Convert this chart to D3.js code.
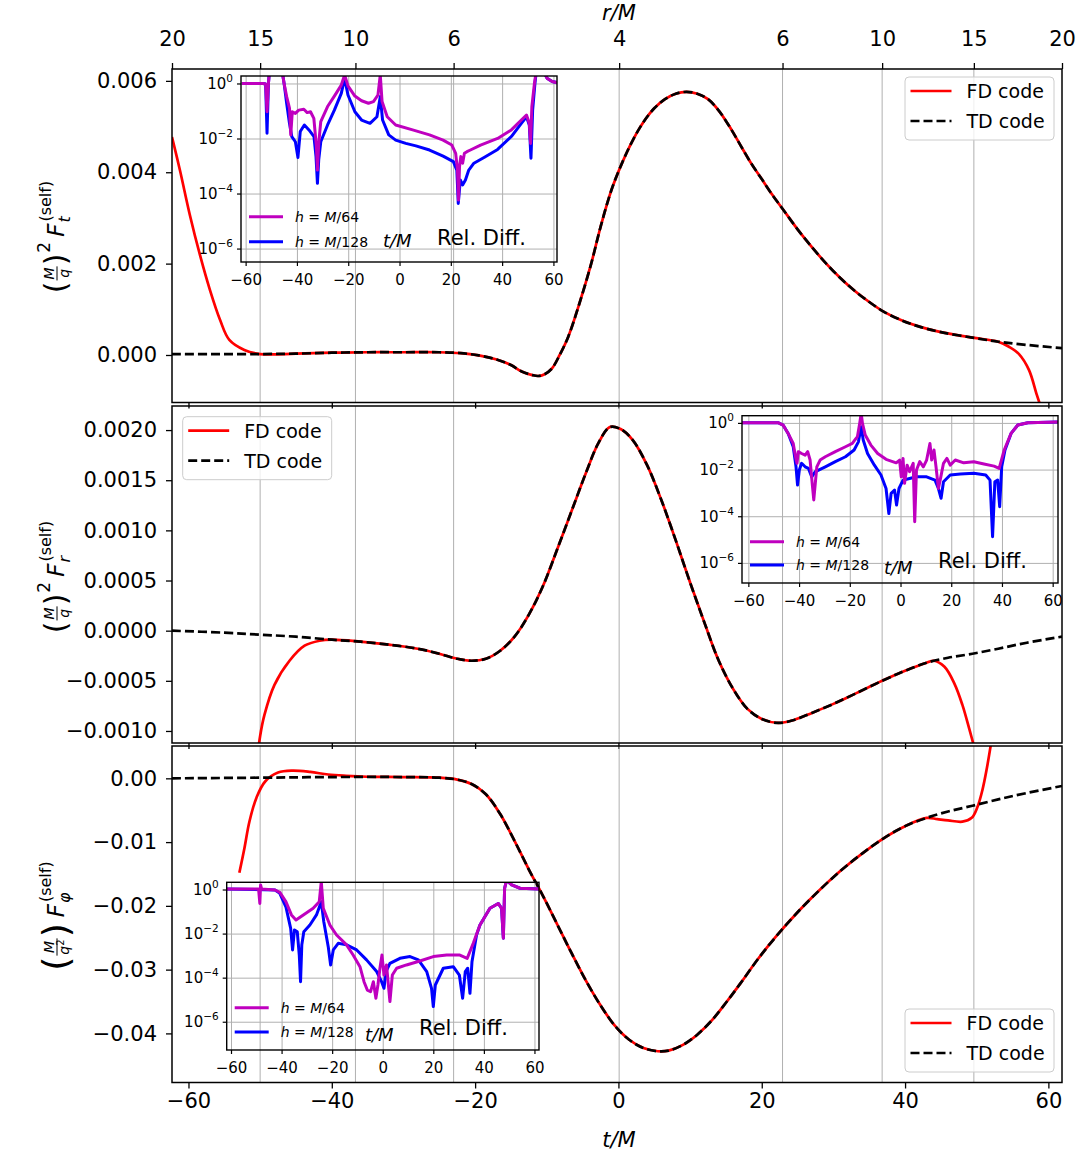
<!DOCTYPE html>
<html>
<head>
<meta charset="utf-8">
<script src="https://cdn.jsdelivr.net/npm/d3@7"></script>
<style>
  body { margin: 0; background: #fff; }
  svg { display: block; font-family: "DejaVu Sans", sans-serif; }
</style>
</head>
<body>
<svg id="chart" width="1082" height="1154"></svg>
<script>
// ---------------- shared time axis ----------------
const tDomain = [-62.3, 61.9];
const tTicks = [-60, -40, -20, 0, 20, 40, 60];
// orbital radius r/M reached at these times (top axis + vertical grid)
const rTickTimes = [-62.3, -50.0, -36.7, -23.0, 0.1, 22.9, 36.8, 49.6, 61.9];
const rTickLabels = ["20", "15", "10", "6", "4", "6", "10", "15", "20"];
const seriesNames = ["FD code", "TD code"];

// ---------------- F_t ----------------
const ftDomain = [-0.00104, 0.00626];
const ftTicks = [0, 0.002, 0.004, 0.006];
const ftTD = [[-62.3,0.00002],[-56,0.00002],[-50,0.00002],[-45,0.00003],[-40,0.00005],[-35,0.00006],[-30,0.00006],[-25,0.00006],[-22,0.00004],[-19.5,-0.00001],[-17,-0.0001],[-15,-0.00022],[-13.5,-0.00036],[-12,-0.00044],[-11.2,-0.00046],[-10.3,-0.00042],[-9.3,-0.0003],[-8.2,0.0],[-7,0.0004],[-5.5,0.0011],[-3.8,0.002],[-2.5,0.0028],[-1,0.0036],[0.5,0.0042],[2,0.0047],[3.5,0.0051],[5,0.0054],[6.5,0.0056],[8,0.00572],[9.5,0.00576],[11,0.00572],[12.5,0.0056],[14,0.00535],[15.5,0.005],[17,0.0046],[18.5,0.0042],[20,0.00385],[21.5,0.0035],[23,0.00318],[25,0.00275],[27,0.00236],[29,0.002],[31,0.00168],[33,0.0014],[35,0.00116],[37,0.00095],[39.5,0.00076],[42,0.00062],[45,0.0005],[49.4,0.00038],[53,0.00029],[57,0.00022],[61.9,0.00015]];
const ftFDLeft = [[-62.3,0.00477],[-61.2,0.00405],[-59.8,0.00306],[-58.4,0.00219],[-57.0,0.00142],[-55.6,0.00077],[-54.3,0.00033],[-52.2,0.00011]];
const ftFDRight = [[54.5,0.00018],[55.9,0.00002],[57.3,-0.00033],[58.4,-0.00088],[59.3,-0.0013]];
const ftFDJoin = [-50, 53];

// ---------------- F_r ----------------
const frDomain = [-0.00112, 0.00224];
const frTicks = [-0.001, -0.0005, 0, 0.0005, 0.001, 0.0015, 0.002];
const frTD = [[-62.3,0.0],[-55,-0.00002],[-50,-0.00004],[-45,-0.00006],[-40,-0.00009],[-36,-0.00011],[-32,-0.00014],[-28,-0.00018],[-25,-0.00023],[-22.5,-0.00028],[-20.5,-0.0003],[-18.5,-0.00028],[-16.5,-0.0002],[-14.5,-0.00006],[-12.5,0.00016],[-10.5,0.00045],[-8.5,0.00082],[-6.5,0.0012],[-4.5,0.00158],[-2.8,0.00187],[-1.2,0.00203],[0.3,0.00201],[2,0.0019],[4,0.00165],[6,0.0013],[8,0.0009],[10,0.00048],[12,0.00008],[14,-0.0003],[16,-0.00058],[18,-0.00078],[20,-0.00088],[22.3,-0.00092],[24.5,-0.00089],[27,-0.00082],[30,-0.00073],[33,-0.00063],[36.8,-0.0005],[40,-0.0004],[43,-0.00032],[46,-0.00027],[49.4,-0.00023],[53,-0.00018],[57,-0.00012],[61.9,-0.00006]];
const frFDLeft = [[-50.6,-0.0014],[-50.0,-0.00105],[-49.4,-0.00084],[-48.0,-0.00054],[-45.9,-0.0003],[-43.8,-0.00015],[-41.7,-0.0001]];
const frFDRight = [[44,-0.0003],[45.5,-0.00036],[46.9,-0.00053],[48,-0.00074],[49,-0.00099],[49.8,-0.0012]];
const frFDJoin = [-40, 43];

// ---------------- F_phi ----------------
const fpDomain = [-0.0477, 0.00507];
const fpTicks = [-0.04, -0.03, -0.02, -0.01, 0];
const fpTD = [[-62.3,0],[-50,0.0001],[-40,0.0002],[-30,0.0002],[-25,0.0001],[-22.5,-0.0002],[-20.5,-0.0009],[-18.5,-0.0025],[-16.5,-0.0056],[-14.5,-0.0098],[-12.5,-0.0143],[-10.5,-0.0185],[-8.5,-0.023],[-6.5,-0.0275],[-4.5,-0.0318],[-2.5,-0.0356],[-0.5,-0.0388],[1.5,-0.041],[3.5,-0.0423],[5.5,-0.0428],[7,-0.0427],[9,-0.0418],[11,-0.0402],[13,-0.038],[15,-0.0352],[17,-0.0322],[19.5,-0.0283],[22,-0.0248],[25,-0.021],[28,-0.0176],[31,-0.0145],[34,-0.0118],[37,-0.0094],[40,-0.0075],[43,-0.0062],[46,-0.0052],[49.4,-0.0043],[53,-0.0033],[57,-0.0023],[61.9,-0.0012]];
const fpFDLeft = [[-52.9,-0.0148],[-52.2,-0.011],[-51.5,-0.0068],[-50.5,-0.003],[-49.3,-0.0005],[-47.5,0.0009],[-45.5,0.0012],[-43,0.001],[-40.5,0.0006],[-38,0.0004],[-35,0.00025]];
const fpFDRight = [[44.5,-0.0064],[46,-0.0066],[48,-0.0068],[49.3,-0.0062],[50.1,-0.0045],[50.8,-0.0018],[51.4,0.0015],[52,0.0055]];
const fpFDJoin = [-30, 43];

// ---------------- relative differences, [t/M, log10] ----------------
const insetTTicks = [-60, -40, -20, 0, 20, 40, 60];
const insetLogTicks = [0, -2, -4, -6];
const resolutions = ["64", "128"];

const relFt64 = [[-61.7,0.02],[-53.4,0.02],[-52.4,0.0],[-51.85,-1.01],[-51.3,0.02],[-50.8,0.6],[-46.2,0.6],[-45.2,0.02],[-44.2,-0.46],[-43.1,-0.88],[-42.6,-1.85],[-42.0,-1.01],[-40.8,-1.07],[-39.5,-0.95],[-37.5,-0.92],[-36.2,-1.04],[-34.9,-1.01],[-33.6,-1.25],[-32.6,-2.28],[-32.2,-3.13],[-31.7,-2.16],[-30.9,-1.37],[-28.25,-0.82],[-25.6,-0.44],[-22.9,-0.04],[-21.6,0.33],[-20.3,-0.07],[-17.6,-0.44],[-15.0,-0.61],[-12.3,-0.7],[-10.35,-0.64],[-8.6,-0.4],[-7.7,0.33],[-7.0,-0.64],[-5.0,-1.19],[-1.7,-1.49],[4.9,-1.67],[11.5,-1.85],[16.8,-2.04],[20.2,-2.22],[21.7,-2.52],[22.4,-3.13],[22.8,-4.22],[23.2,-3.0],[23.7,-2.64],[24.4,-2.88],[25.1,-2.52],[26.1,-2.46],[27.45,-2.4],[31.4,-2.22],[38.05,-1.98],[43.4,-1.67],[47.3,-1.31],[49.3,-1.13],[50.4,-1.43],[50.9,-2.16],[51.4,-0.82],[52.4,0.02],[53.3,0.6],[55.3,0.6],[57.3,0.21],[59.3,0.09],[62.6,0.02]];
const relFt128 = [[-61.7,0.02],[-53.4,0.02],[-52.4,0.0],[-51.85,-1.79],[-51.3,0.02],[-50.8,0.6],[-46.2,0.6],[-45.2,0.02],[-44.2,-0.7],[-43.1,-1.43],[-42.2,-1.91],[-40.8,-2.1],[-39.8,-2.67],[-38.9,-1.73],[-37.3,-1.49],[-35.5,-1.67],[-33.55,-1.91],[-32.75,-2.64],[-32.2,-3.61],[-31.7,-2.76],[-30.9,-2.1],[-28.25,-1.49],[-25.6,-0.95],[-22.9,-0.34],[-21.6,0.21],[-20.3,-0.4],[-17.6,-1.01],[-15.0,-1.31],[-11.7,-1.43],[-9.0,-1.19],[-7.7,-0.46],[-6.8,-1.31],[-4.4,-1.85],[-1.7,-2.04],[2.25,-2.16],[6.2,-2.25],[11.5,-2.4],[16.8,-2.62],[20.8,-2.82],[22.15,-3.13],[22.7,-4.34],[23.5,-3.49],[24.4,-3.67],[25.5,-3.49],[26.8,-3.13],[28.8,-2.88],[32.75,-2.67],[38.05,-2.38],[43.4,-1.91],[47.3,-1.43],[49.3,-1.19],[50.4,-1.49],[51.05,-2.7],[51.7,-0.95],[52.6,0.02],[53.3,0.6],[55.3,0.6],[57.3,0.21],[59.3,0.09],[62.6,0.02]];

const relFr64 = [[-62.7,0.03],[-48.5,0.03],[-46.5,-0.07],[-44.5,-0.43],[-42.5,-0.86],[-41.6,-1.43],[-41.0,-1.71],[-40.5,-1.21],[-39.2,-1.29],[-37.8,-1.36],[-36.8,-1.21],[-35.85,-1.57],[-34.9,-2.71],[-34.4,-3.28],[-33.8,-2.57],[-33.2,-1.86],[-31.9,-1.57],[-29.85,-1.43],[-25.9,-1.21],[-21.9,-1.0],[-19.2,-0.86],[-17.2,-0.57],[-16.3,0.0],[-15.7,0.43],[-15.2,0.0],[-14.1,-0.5],[-11.9,-0.93],[-9.2,-1.29],[-5.9,-1.54],[-1.9,-1.69],[-0.56,-1.57],[0.1,-2.29],[0.8,-1.5],[1.4,-2.57],[2.4,-1.79],[3.4,-2.07],[4.8,-1.71],[5.4,-4.21],[6.1,-2.0],[7.4,-1.64],[8.8,-1.86],[10.1,-1.57],[11.4,-0.86],[12.1,-1.57],[13.0,-1.14],[13.8,-1.86],[14.75,-2.79],[15.7,-2.29],[16.75,-1.71],[18.1,-1.5],[19.4,-1.79],[21.4,-1.57],[24.75,-1.69],[28.7,-1.64],[32.7,-1.74],[36.7,-1.83],[38.7,-1.93],[40.7,-1.14],[43.4,-0.43],[46.05,-0.07],[50.0,0.03],[61.8,0.06]];
const relFr128 = [[-62.7,0.03],[-48.5,0.03],[-46.5,-0.07],[-44.5,-0.43],[-42.5,-1.0],[-41.4,-1.86],[-40.8,-2.64],[-40.1,-2.0],[-39.2,-1.71],[-37.8,-1.86],[-36.5,-1.93],[-35.2,-2.29],[-33.8,-2.07],[-32.5,-2.0],[-29.85,-1.86],[-25.9,-1.64],[-21.9,-1.43],[-18.5,-1.14],[-16.8,-0.79],[-15.7,-0.14],[-14.9,-0.71],[-13.2,-1.29],[-10.5,-1.79],[-7.9,-2.21],[-5.9,-2.79],[-4.8,-3.86],[-3.9,-3.0],[-2.55,-2.86],[-1.75,-3.5],[-0.8,-2.79],[0.8,-2.43],[3.4,-2.36],[6.1,-2.29],[10.1,-2.29],[13.4,-2.43],[14.75,-2.79],[15.8,-3.21],[16.75,-2.5],[19.4,-2.21],[23.4,-2.17],[28.7,-2.14],[33.4,-2.21],[35.1,-2.43],[36.1,-4.86],[37.0,-2.5],[38.1,-2.43],[38.9,-3.57],[39.7,-1.86],[41.0,-1.14],[43.4,-0.43],[46.05,-0.07],[50.0,0.03],[61.8,0.06]];

const relFp64 = [[-61.96,0.05],[-49.3,0.05],[-48.8,-0.61],[-48.5,0.23],[-48.1,0.05],[-42.8,0.0],[-40.9,-0.11],[-38.5,-0.53],[-36.3,-1.13],[-34.5,-1.36],[-31.6,-1.13],[-27.7,-0.83],[-25.3,-0.53],[-24.5,0.38],[-23.7,-0.83],[-21.1,-1.59],[-18.45,-2.04],[-14.5,-2.49],[-11.9,-2.95],[-9.2,-3.48],[-7.6,-4.16],[-6.3,-4.54],[-5.0,-4.61],[-3.9,-4.16],[-2.9,-4.91],[-2.1,-4.31],[-1.3,-3.55],[-0.5,-2.95],[0.3,-3.86],[1.3,-3.4],[2.65,-5.06],[3.6,-3.86],[5.3,-3.55],[9.2,-3.4],[14.5,-3.22],[19.8,-3.02],[25.1,-2.95],[30.3,-2.95],[33.2,-3.1],[35.6,-2.42],[38.25,-1.59],[42.2,-0.83],[45.5,-0.61],[46.8,-0.83],[47.5,-2.19],[48.0,0.08],[48.8,0.45],[50.8,0.23],[54.1,0.08],[61.6,0.05]];
const relFp128 = [[-61.96,0.05],[-42.8,0.0],[-40.9,-0.15],[-38.5,-0.76],[-36.6,-1.74],[-35.85,-2.72],[-35.1,-1.81],[-34.0,-1.89],[-33.2,-2.95],[-32.7,-4.16],[-32.2,-2.49],[-31.4,-1.89],[-29.0,-1.59],[-26.4,-1.13],[-24.5,-0.53],[-23.5,-1.44],[-21.75,-2.57],[-20.8,-3.4],[-19.75,-2.72],[-17.8,-2.42],[-14.5,-2.49],[-10.5,-2.72],[-6.6,-3.17],[-2.6,-3.7],[-0.65,-4.16],[0.3,-4.46],[1.1,-3.7],[2.65,-3.33],[6.6,-3.1],[10.6,-3.02],[13.9,-3.17],[17.2,-3.7],[19.1,-4.46],[19.8,-5.29],[20.6,-4.31],[23.75,-3.55],[27.7,-3.48],[30.1,-3.86],[31.4,-4.91],[32.45,-3.7],[33.4,-3.55],[34.3,-4.69],[35.1,-3.25],[36.9,-2.04],[38.25,-1.59],[42.2,-0.83],[45.5,-0.61],[46.8,-0.83],[47.5,-2.19],[48.0,0.08],[48.8,0.45],[50.8,0.23],[54.1,0.08],[61.6,0.05]];

// ---------------- drawing ----------------
const svg = d3.select("#chart");
const FONT = "'DejaVu Sans', sans-serif";
const X0 = 172, X1 = 1062;
const x = d3.scaleLinear().domain(tDomain).range([X0, X1]);
const RED = "#ff0000", MAGENTA = "#bf00bf", BLUE = "#0000ff", GRID = "#b0b0b0";

const panels = [
  { top: 69,  bottom: 402.5, domain: ftDomain, ticks: ftTicks, fmt: ".3f", td: ftTD, fdL: ftFDLeft, fdR: ftFDRight, join: ftFDJoin },
  { top: 406, bottom: 743,   domain: frDomain, ticks: frTicks, fmt: ".4f", td: frTD, fdL: frFDLeft, fdR: frFDRight, join: frFDJoin },
  { top: 746, bottom: 1082.5, domain: fpDomain, ticks: fpTicks, fmt: ".2f", td: fpTD, fdL: fpFDLeft, fdR: fpFDRight, join: fpFDJoin }
];

const defs = svg.append("defs");

function styleAxis(g, size) {
  g.select(".domain").remove();
  g.selectAll(".tick line").attr("stroke", "#000").attr("stroke-width", 1.3);
  g.selectAll(".tick text").attr("fill", "#000").style("font-size", size + "px").style("font-family", FONT);
}

panels.forEach((p, i) => {
  const y = d3.scaleLinear().domain(p.domain).range([p.bottom, p.top]);
  defs.append("clipPath").attr("id", "panel" + i)
    .append("rect").attr("x", X0).attr("y", p.top).attr("width", X1 - X0).attr("height", p.bottom - p.top);

  // vertical grid from the r/M ticks
  svg.append("g").selectAll("line").data(rTickTimes.slice(1, -1)).join("line")
    .attr("x1", d => x(d)).attr("x2", d => x(d))
    .attr("y1", p.top).attr("y2", p.bottom)
    .attr("stroke", GRID).attr("stroke-width", 1);

  const line = d3.line().x(d => x(d[0])).y(d => y(d[1])).curve(d3.curveCatmullRom.alpha(0.5));
  const fd = p.fdL.concat(p.td.filter(d => d[0] >= p.join[0] && d[0] <= p.join[1]), p.fdR);
  const cg = svg.append("g").attr("clip-path", `url(#panel${i})`);
  cg.append("path").attr("d", line(fd)).attr("fill", "none").attr("stroke", RED).attr("stroke-width", 2.7);
  cg.append("path").attr("d", line(p.td)).attr("fill", "none").attr("stroke", "#000")
    .attr("stroke-width", 2.7).attr("stroke-dasharray", "9,4");

  const ay = svg.append("g").attr("transform", `translate(${X0},0)`)
    .call(d3.axisLeft(y).tickValues(p.ticks).tickFormat(d3.format(p.fmt)).tickSize(6).tickPadding(9));
  styleAxis(ay, 21);

  const ax = svg.append("g").attr("transform", `translate(0,${p.bottom})`)
    .call(d3.axisBottom(x).tickValues(tTicks).tickSize(6).tickPadding(4.5)
      .tickFormat(i === 2 ? d3.format("d") : () => ""));
  styleAxis(ax, 21);

  svg.append("rect").attr("x", X0).attr("y", p.top).attr("width", X1 - X0).attr("height", p.bottom - p.top)
    .attr("fill", "none").attr("stroke", "#000").attr("stroke-width", 1.5);
});

// top r/M axis
const rAxis = svg.append("g").attr("transform", `translate(0,${panels[0].top})`)
  .call(d3.axisTop(x).tickValues(rTickTimes).tickSize(6).tickPadding(17).tickFormat((d, i) => rTickLabels[i]));
styleAxis(rAxis, 21);

svg.append("text").attr("x", 619).attr("y", 20).attr("text-anchor", "middle")
  .style("font-size", "21px").style("font-style", "italic").text("r/M");
svg.append("text").attr("x", 619).attr("y", 1147).attr("text-anchor", "middle")
  .style("font-size", "21px").style("font-style", "italic").text("t/M");

// rotated mathematical y labels
function yLabel(xBase, cy, den, pow, sub, parenSize) {
  const g = svg.append("g").attr("transform", `translate(${xBase},${cy}) rotate(-90)`);
  const inner = g.append("g");
  const axisY = -7;
  const txt = (s, size, italic, xx, yy) => inner.append("text").attr("x", xx).attr("y", yy)
    .style("font-size", size + "px").style("font-style", italic ? "italic" : "normal").text(s);
  let cx = 0;
  const pBase = axisY + 0.315 * parenSize;
  const lp = txt("(", parenSize, false, cx, pBase);
  cx += lp.node().getComputedTextLength();
  // fraction M / den
  const fs = 14;
  const num = txt("M", fs, true, 0, axisY - 3);
  const dn = inner.append("text").attr("y", axisY + 12).style("font-size", fs + "px");
  dn.append("tspan").style("font-style", "italic").text(den[0]);
  if (den.length > 1) dn.append("tspan").attr("dy", -5).style("font-size", "10px").text(den[1]);
  const w = Math.max(num.node().getComputedTextLength(), dn.node().getComputedTextLength()) + 4;
  num.attr("x", cx + w / 2).attr("text-anchor", "middle");
  dn.attr("x", cx + w / 2).attr("text-anchor", "middle");
  inner.append("line").attr("x1", cx + 1).attr("x2", cx + w - 1).attr("y1", axisY).attr("y2", axisY)
    .attr("stroke", "#000").attr("stroke-width", 1);
  cx += w;
  const rp = txt(")", parenSize, false, cx, pBase);
  cx += rp.node().getComputedTextLength();
  if (pow) {
    const pw = txt(pow, 17, false, cx + 1, -14);
    cx += pw.node().getComputedTextLength() + 6;
  } else {
    cx += 6;
  }
  const F = txt("F", 23, true, cx, 0);
  cx += F.node().getComputedTextLength() + 1;
  txt(sub, 16, true, cx, 6);
  txt("(self)", 16, false, cx + 1, -13);
  const bb = inner.node().getBBox();
  inner.attr("transform", `translate(${-(bb.x + bb.width / 2)},0)`);
}
yLabel(64, 237, ["q"], "2", "t", 30);
yLabel(64, 577, ["q"], "2", "r", 30);
yLabel(64, 916, ["q", "2"], null, "\u03C6", 36);

// insets with relative differences
function drawInset(cfg) {
  const b = cfg.box;
  const xi = d3.scaleLinear().domain(cfg.tDom).range([b.x, b.x + b.w]);
  const yi = d3.scaleLog().domain([Math.pow(10, cfg.logDom[0]), Math.pow(10, cfg.logDom[1])]).range([b.y + b.h, b.y]);
  const g = svg.append("g");
  g.append("g").selectAll("line").data(insetTTicks).join("line")
    .attr("x1", d => xi(d)).attr("x2", d => xi(d)).attr("y1", b.y).attr("y2", b.y + b.h)
    .attr("stroke", GRID).attr("stroke-width", 1);
  g.append("g").selectAll("line").data(insetLogTicks).join("line")
    .attr("x1", b.x).attr("x2", b.x + b.w).attr("y1", d => yi(Math.pow(10, d))).attr("y2", d => yi(Math.pow(10, d)))
    .attr("stroke", GRID).attr("stroke-width", 1);
  defs.append("clipPath").attr("id", cfg.id).append("rect")
    .attr("x", b.x).attr("y", b.y).attr("width", b.w).attr("height", b.h);
  const line = d3.line().x(d => xi(d[0])).y(d => yi(Math.pow(10, d[1])));
  const cg = g.append("g").attr("clip-path", `url(#${cfg.id})`);
  cg.append("path").attr("d", line(cfg.s128)).attr("fill", "none").attr("stroke", BLUE)
    .attr("stroke-width", 3).attr("stroke-linejoin", "round");
  cg.append("path").attr("d", line(cfg.s64)).attr("fill", "none").attr("stroke", MAGENTA)
    .attr("stroke-width", 3).attr("stroke-linejoin", "round");
  g.append("rect").attr("x", b.x).attr("y", b.y).attr("width", b.w).attr("height", b.h)
    .attr("fill", "none").attr("stroke", "#000").attr("stroke-width", 1.4);

  // ticks and labels
  g.append("g").selectAll("line").data(insetTTicks).join("line")
    .attr("x1", d => xi(d)).attr("x2", d => xi(d)).attr("y1", b.y + b.h).attr("y2", b.y + b.h + 4)
    .attr("stroke", "#000").attr("stroke-width", 1.2);
  g.append("g").selectAll("text").data(insetTTicks).join("text")
    .attr("x", d => xi(d)).attr("y", b.y + b.h + 23).attr("text-anchor", "middle")
    .style("font-size", "15px").text(d => d3.format("d")(d));
  g.append("g").selectAll("line").data(insetLogTicks).join("line")
    .attr("x1", b.x - 4).attr("x2", b.x).attr("y1", d => yi(Math.pow(10, d))).attr("y2", d => yi(Math.pow(10, d)))
    .attr("stroke", "#000").attr("stroke-width", 1.2);
  const yl = g.append("g").selectAll("text").data(insetLogTicks).join("text")
    .attr("x", b.x - 8).attr("y", d => yi(Math.pow(10, d)) + 5).attr("text-anchor", "end")
    .style("font-size", "15px");
  yl.append("tspan").text("10");
  yl.append("tspan").attr("dy", -7).style("font-size", "10.5px").text(d => d === 0 ? "0" : "\u2212" + (-d));

  // legend
  const L = cfg.leg;
  [[MAGENTA, resolutions[0], L.y0], [BLUE, resolutions[1], L.y1]].forEach(([c, r, yy]) => {
    g.append("line").attr("x1", b.x + 8).attr("x2", b.x + 42).attr("y1", yy).attr("y2", yy)
      .attr("stroke", c).attr("stroke-width", 3);
    const t = g.append("text").attr("x", b.x + 54).attr("y", yy + 5).style("font-size", "14px");
    t.append("tspan").style("font-style", "italic").text("h");
    t.append("tspan").text(" = ");
    t.append("tspan").style("font-style", "italic").text("M");
    t.append("tspan").text("/" + r);
  });
  g.append("text").attr("x", cfg.tLab[0]).attr("y", cfg.tLab[1]).style("font-size", "18px")
    .style("font-style", "italic").text("t/M");
  g.append("text").attr("x", cfg.relLab[0]).attr("y", cfg.relLab[1]).style("font-size", "21px").text("Rel. Diff.");
}

drawInset({ id: "inset0", box: { x: 241, y: 76, w: 316, h: 186 }, tDom: [-62.0, 61.2], logDom: [-6.47, 0.29],
  s64: relFt64, s128: relFt128, leg: { y0: 216.7, y1: 241.7 }, tLab: [383, 247], relLab: [437, 245] });
drawInset({ id: "inset1", box: { x: 742, y: 415.7, w: 316, h: 167.3 }, tDom: [-62.7, 61.9], logDom: [-6.84, 0.33],
  s64: relFr64, s128: relFr128, leg: { y0: 541.7, y1: 565 }, tLab: [884, 574], relLab: [938, 568] });
drawInset({ id: "inset2", box: { x: 226.7, y: 882.3, w: 312.3, h: 167.7 }, tDom: [-61.9, 61.6], logDom: [-7.26, 0.35],
  s64: relFp64, s128: relFp128, leg: { y0: 1007.7, y1: 1032 }, tLab: [365, 1041], relLab: [419, 1035] });

// main legends
function legend(lx, ly) {
  const g = svg.append("g");
  g.append("rect").attr("x", lx).attr("y", ly).attr("width", 149).attr("height", 63).attr("rx", 4)
    .attr("fill", "#fff").attr("fill-opacity", 0.8).attr("stroke", "#cccccc").attr("stroke-width", 1);
  seriesNames.forEach((name, k) => {
    const yy = ly + 14 + k * 30;
    g.append("line").attr("x1", lx + 5.5).attr("x2", lx + 46.5).attr("y1", yy).attr("y2", yy)
      .attr("stroke", k === 0 ? RED : "#000").attr("stroke-width", 2.7)
      .attr("stroke-dasharray", k === 0 ? null : "9,4");
    g.append("text").attr("x", lx + 61.5).attr("y", yy + 7).style("font-size", "19px").text(name);
  });
}
legend(905, 77);
legend(182.7, 416.7);
legend(905, 1009);
</script>
</body>
</html>
